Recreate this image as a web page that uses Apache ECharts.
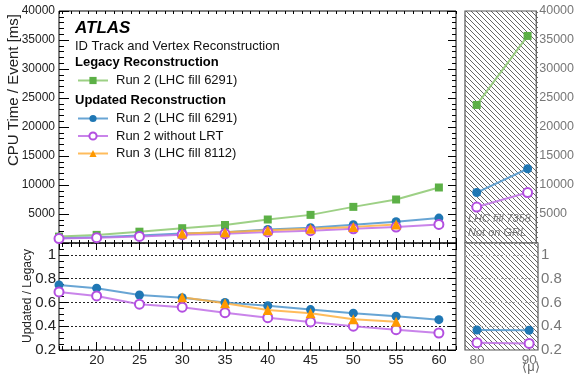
<!DOCTYPE html>
<html>
<head>
<meta charset="utf-8">
<script src="https://cdn.jsdelivr.net/npm/echarts@6/dist/echarts.min.js"></script>
<style>
html, body { margin: 0; padding: 0; background: #fff; }
#chart { width: 577px; height: 377px; }
</style>
</head>
<body>
<div id="chart"></div>
<script>
// <mu> values
const muMain = [15.6, 20, 25, 30, 35, 40, 45, 50, 55, 60]
const muRun3 = [30, 35, 40, 45, 50, 55]
const muHigh = [80, 90]

// CPU time / event [ms]
const legacyCpu = [1100, 1400, 1950, 2550, 3100, 4050, 4850, 6230, 7500, 9570]
const updatedCpu = [820, 1010, 1290, 1630, 1860, 2320, 2620, 3150, 3660, 4300]
const noLrtCpu = [760, 920, 1140, 1430, 1590, 1910, 2120, 2450, 2750, 3200]
const run3Cpu = [1640, 1840, 2180, 2470, 2780, 3200]

// ratio updated / legacy
const updatedRatio = [0.747, 0.72, 0.663, 0.64, 0.60, 0.573, 0.54, 0.51, 0.484, 0.455]
const noLrtRatio = [0.688, 0.655, 0.585, 0.56, 0.514, 0.472, 0.436, 0.40, 0.371, 0.343]
const run3Ratio = [0.644, 0.593, 0.537, 0.509, 0.458, 0.438]

// high pile-up fill (LHC fill 7358)
const legacyHigh = [23800, 35700]
const updatedHigh = [8700, 12800]
const noLrtHigh = [6200, 8700]
const updatedHighRatio = [0.368, 0.366]
const noLrtHighRatio = [0.262, 0.255]

const cpuTicks = { min: 0, max: 40000, interval: 5000 }
const ratioTicks = { min: 0.2, max: 1.1, interval: 0.2 }

const GREEN = '#5cb046', GREEN_L = '#8cc870'
const BLUE = '#1f77b4', BLUE_L = '#4d95cc'
const PURPLE = '#b34fe0', PURPLE_L = '#bf6ee6'
const ORANGE = '#ff9900', ORANGE_L = '#ffb040'
const FONT = 'Liberation Sans, Arial, Helvetica, sans-serif'

function zip(xs, ys) {
  return xs.map((x, i) => [x, ys[i]])
}

// hatch pattern for the "not on GRL" panel
function hatch() {
  let c = document.createElement('canvas')
  c.width = 5
  c.height = 5
  let g = c.getContext('2d')
  g.strokeStyle = '#555'
  g.lineWidth = 0.9
  g.beginPath()
  g.moveTo(-1, -1); g.lineTo(6, 6)
  g.moveTo(-1, 4); g.lineTo(1, 6)
  g.moveTo(4, -1); g.lineTo(6, 1)
  g.stroke()
  return c
}

// x axis of the main panels: only ticks, one axis for major and one for minor
function muAxis(grid, pos, split, len, labels) {
  return {
    gridIndex: grid, type: 'value', position: pos,
    min: 15.6, max: 62, splitNumber: split,
    axisLine: { show: false },
    axisTick: { inside: true, length: len, lineStyle: { color: '#000', width: 1 } },
    axisLabel: labels ? {
      show: true, fontSize: 13.5, color: '#222', margin: 3,
      showMinLabel: false, showMaxLabel: false
    } : { show: false },
    splitLine: { show: false }
  }
}

function yTicks(grid, pos, range, len, minorSplit, label, split) {
  return Object.assign({
    gridIndex: grid, type: 'value', position: pos,
    axisLine: { show: false },
    axisTick: { inside: true, length: len, lineStyle: { color: '#000' } },
    minorTick: { show: true, splitNumber: minorSplit, length: len / 2, lineStyle: { color: '#000' } },
    axisLabel: label || { show: false },
    splitLine: split || { show: false }
  }, range)
}

let chart = echarts.init(document.getElementById('chart'), null, { renderer: 'canvas' })

let mainSym = (sym, col, line, size) => ({
  symbol: sym, symbolSize: size, clip: false,
  itemStyle: { color: col, borderColor: col, borderWidth: sym === 'emptyCircle' ? 1.5 : 0 },
  lineStyle: { color: line, width: 2, opacity: 0.85 }
})

let series = [
  Object.assign({ name: 'Legacy Run 2 (LHC fill 6291)', type: 'line', xAxisIndex: 0, yAxisIndex: 0, data: zip(muMain, legacyCpu) }, mainSym('rect', GREEN, GREEN_L, 8)),
  Object.assign({ name: 'Run 2 (LHC fill 6291)', type: 'line', xAxisIndex: 0, yAxisIndex: 0, data: zip(muMain, updatedCpu) }, mainSym('circle', BLUE, BLUE_L, 9)),
  Object.assign({ name: 'Run 2 without LRT', type: 'line', xAxisIndex: 0, yAxisIndex: 0, data: zip(muMain, noLrtCpu) }, mainSym('emptyCircle', PURPLE, PURPLE_L, 9)),
  Object.assign({ name: 'Run 3 (LHC fill 8112)', type: 'line', xAxisIndex: 0, yAxisIndex: 0, data: zip(muRun3, run3Cpu) }, mainSym('triangle', ORANGE, ORANGE_L, 10)),

  Object.assign({ name: 'Run 2 (LHC fill 6291)', type: 'line', xAxisIndex: 4, yAxisIndex: 2, data: zip(muMain, updatedRatio) }, mainSym('circle', BLUE, BLUE_L, 9)),
  Object.assign({ name: 'Run 2 without LRT', type: 'line', xAxisIndex: 4, yAxisIndex: 2, data: zip(muMain, noLrtRatio) }, mainSym('emptyCircle', PURPLE, PURPLE_L, 9)),
  Object.assign({ name: 'Run 3 (LHC fill 8112)', type: 'line', xAxisIndex: 4, yAxisIndex: 2, data: zip(muRun3, run3Ratio) }, mainSym('triangle', ORANGE, ORANGE_L, 10)),

  Object.assign({ name: 'Legacy Run 2 (LHC fill 6291)', type: 'line', xAxisIndex: 8, yAxisIndex: 4, data: zip(muHigh, legacyHigh) }, mainSym('rect', GREEN, GREEN_L, 8)),
  Object.assign({ name: 'Run 2 (LHC fill 6291)', type: 'line', xAxisIndex: 8, yAxisIndex: 4, data: zip(muHigh, updatedHigh) }, mainSym('circle', BLUE, BLUE_L, 9)),
  Object.assign({ name: 'Run 2 without LRT', type: 'line', xAxisIndex: 8, yAxisIndex: 4, data: zip(muHigh, noLrtHigh) }, mainSym('emptyCircle', PURPLE, PURPLE_L, 9)),
  Object.assign({ name: 'Run 2 (LHC fill 6291)', type: 'line', xAxisIndex: 9, yAxisIndex: 5, data: zip(muHigh, updatedHighRatio) }, mainSym('circle', BLUE, BLUE_L, 9)),
  Object.assign({ name: 'Run 2 without LRT', type: 'line', xAxisIndex: 9, yAxisIndex: 5, data: zip(muHigh, noLrtHighRatio) }, mainSym('emptyCircle', PURPLE, PURPLE_L, 9))
]

let hiAxis = (grid, labels) => ({
  gridIndex: grid, type: 'value', position: 'bottom',
  min: 77.7, max: 91.7, splitNumber: 1,
  axisLine: { show: false }, axisTick: { show: false },
  axisLabel: labels ? { show: true, fontSize: 13.5, color: '#777', margin: 3, showMinLabel: false, showMaxLabel: false } : { show: false },
  splitLine: { show: false }
})

let legendText = { fontSize: 13, color: '#111', fontFamily: FONT, padding: [0, 0, 0, 3] }

let option = {
  animation: false,
  backgroundColor: '#fff',
  textStyle: { fontFamily: FONT },
  grid: [
    { left: 59, top: 11, width: 397, height: 232, show: true, borderColor: '#000', borderWidth: 1, backgroundColor: 'transparent' },
    { left: 59, top: 243, width: 397, height: 107, show: true, borderColor: '#000', borderWidth: 1, backgroundColor: 'transparent' },
    { left: 465, top: 11, width: 73, height: 232, show: true, borderColor: '#555', borderWidth: 1.2, backgroundColor: 'transparent' },
    { left: 465, top: 243, width: 73, height: 107, show: true, borderColor: '#555', borderWidth: 1.2, backgroundColor: 'transparent' }
  ],
  xAxis: [
    muAxis(0, 'bottom', 9, 5),
    muAxis(0, 'top', 9, 6),
    muAxis(0, 'bottom', 46, 3),
    muAxis(0, 'top', 46, 3),
    muAxis(1, 'bottom', 9, 8, true),
    muAxis(1, 'top', 9, 7),
    muAxis(1, 'bottom', 46, 4),
    muAxis(1, 'top', 46, 4),
    hiAxis(2, false),
    hiAxis(3, true)
  ],
  yAxis: [
    yTicks(0, 'left', cpuTicks, 10, 5, { show: true, fontSize: 12, color: '#222', margin: 4, showMinLabel: false, formatter: v => String(v) }),
    yTicks(0, 'right', cpuTicks, 8, 5),
    yTicks(1, 'left', ratioTicks, 10, 4, { show: true, fontSize: 15, color: '#222', margin: 3, showMaxLabel: false },
      { show: true, lineStyle: { color: '#222', type: [2, 2], width: 1 } }),
    yTicks(1, 'right', ratioTicks, 8, 4),
    Object.assign({
      gridIndex: 2, type: 'value', position: 'right',
      axisLine: { show: false }, axisTick: { show: false },
      axisLabel: { show: true, fontSize: 12.5, color: '#777', margin: 3, showMinLabel: false, formatter: v => String(v) },
      splitLine: { show: false }
    }, cpuTicks),
    Object.assign({
      gridIndex: 3, type: 'value', position: 'right',
      axisLine: { show: false }, axisTick: { show: false },
      axisLabel: { show: true, fontSize: 15, color: '#777', margin: 3, showMaxLabel: false },
      splitLine: { show: true, lineStyle: { color: '#aaa', type: [2, 2], width: 1 } }
    }, ratioTicks)
  ],
  legend: [
    {
      data: ['Legacy Run 2 (LHC fill 6291)'],
      left: 77, top: 74, padding: 0, itemWidth: 30, itemHeight: 9,
      formatter: n => n.replace('Legacy ', ''),
      textStyle: legendText, selectedMode: false
    },
    {
      data: ['Run 2 (LHC fill 6291)', 'Run 2 without LRT', 'Run 3 (LHC fill 8112)'],
      orient: 'vertical', left: 77, top: 112, padding: 0, itemGap: 4.5, itemWidth: 30, itemHeight: 9,
      textStyle: legendText, selectedMode: false
    }
  ],
  graphic: [
    { type: 'rect', z: -1, shape: { x: 465, y: 11, width: 73, height: 339 }, style: { fill: { image: hatch(), repeat: 'repeat' } }, silent: true },
    { type: 'text', x: 75, y: 28, style: { text: 'ATLAS', font: 'italic bold 17px ' + FONT, fill: '#000', verticalAlign: 'middle' } },
    { type: 'text', x: 75, y: 46, style: { text: 'ID Track and Vertex Reconstruction', font: '13px ' + FONT, fill: '#111', verticalAlign: 'middle' } },
    { type: 'text', x: 75, y: 62.5, style: { text: 'Legacy Reconstruction', font: 'bold 13px ' + FONT, fill: '#000', verticalAlign: 'middle' } },
    { type: 'text', x: 75, y: 100, style: { text: 'Updated Reconstruction', font: 'bold 13px ' + FONT, fill: '#000', verticalAlign: 'middle' } },
    { type: 'text', x: 14, y: 90, rotation: Math.PI / 2, style: { text: 'CPU Time / Event [ms]', font: '15px ' + FONT, fill: '#222', align: 'center', verticalAlign: 'middle' } },
    { type: 'text', x: 28, y: 296, rotation: Math.PI / 2, style: { text: 'Updated / Legacy', font: '12px ' + FONT, fill: '#222', align: 'center', verticalAlign: 'middle' } },
    { type: 'text', x: 468, y: 219, z: 5, style: { text: 'LHC fill 7358', font: 'italic 11px ' + FONT, fill: '#777', verticalAlign: 'middle' } },
    { type: 'text', x: 468, y: 233, z: 5, style: { text: 'Not on GRL', font: 'italic 11px ' + FONT, fill: '#777', verticalAlign: 'middle' } },
    { type: 'text', x: 531, y: 367, style: { text: '⟨μ⟩', font: '13px ' + FONT, fill: '#666', align: 'center', verticalAlign: 'middle' } }
  ],
  series: series
}

chart.setOption(option)
</script>
</body>
</html>
